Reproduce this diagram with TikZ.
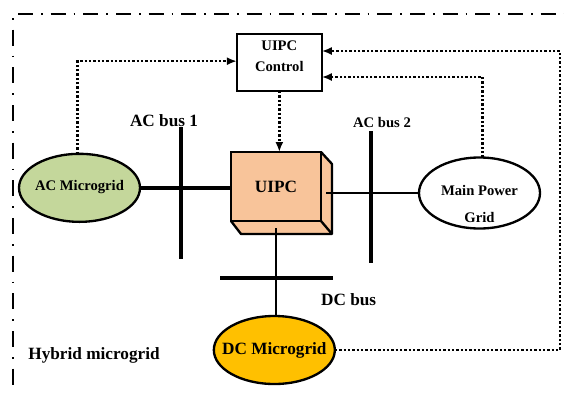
\documentclass[tikz,border=0pt]{standalone}
\usepackage{fontspec}
\setmainfont{Liberation Serif}
\usetikzlibrary{calc,positioning,shapes.geometric,arrows.meta}
\definecolor{cubeorange}{HTML}{F8C49A}
\definecolor{acgreen}{HTML}{C4D79B}
\definecolor{dcyellow}{HTML}{FFC000}
\newcommand{\smalltext}{\fontsize{12.5}{15}\selectfont\bfseries}
\newcommand{\largetext}{\fontsize{14.7}{17}\selectfont\bfseries}
\tikzstyle{grid}=[ellipse, draw=black, line width=0.07cm, minimum width=3.63cm, minimum height=2.04cm, inner sep=0pt, outer sep=0pt, text=black]
\tikzstyle{control}=[rectangle, draw=black, fill=white, line width=0.07cm, minimum width=2.55cm, minimum height=1.71cm, outer sep=0pt]
\tikzstyle{bus}=[line width=0.11cm]
\tikzstyle{link}=[line width=0.06cm]
\tikzstyle{signal}=[line width=0.07cm, dash pattern=on 0.07cm off 0.06cm, -{Latex[length=0.3cm,width=0.24cm]}]
\tikzstyle{frame}=[line width=0.07cm]
\pgfdeclarelayer{background}
\pgfsetlayers{background,main}

\begin{document}
\begin{tikzpicture}
    \useasboundingbox (0,0) rectangle (16.92,11.82);

    \node (UIPC) [rectangle, draw=black, fill=cubeorange, line width=0.08cm, minimum width=2.7cm, minimum height=2.07cm, outer sep=0pt, font=\largetext] at (8.28,6.225) {UIPC};

    \node (Control) [control, above=1.83cm of UIPC, xshift=0.1cm] {};
    \node (Control Label) [align=center, font=\smalltext] at ($(Control.center)+(0,0.18)$)
        {UIPC\\[0.1cm]Control};

    \node (AC Microgrid) [grid, fill=acgreen, left=2.73cm of UIPC, yshift=-0.04cm, font=\smalltext]
        {\raisebox{0.13cm}{\makebox[0pt]{AC Microgrid}}};

    \node (Main Grid) [grid, right=2.94cm of UIPC, yshift=-0.195cm, minimum height=2.13cm] {};
    \node (Main Label) [align=center, font=\smalltext] at ($(Main Grid.center)+(0,-0.33)$)
        {Main Power\\[0.27cm]Grid};

    \node (DC Microgrid) [grid, fill=dcyellow, below=2.85cm of UIPC, xshift=-0.05cm, font=\largetext]
        {\raisebox{0.08cm}{\makebox[0pt]{DC Microgrid}}};

    % buses
    \coordinate (Bus1 top) at (5.43,8.01);
    \coordinate (Bus1 bottom) at (5.43,4.05);
    \coordinate (Bus2 top) at (11.13,7.89);
    \coordinate (Bus2 bottom) at (11.13,3.93);
    \coordinate (DCBus left) at (6.6,3.48);
    \coordinate (DCBus right) at (9.99,3.48);
    \draw[bus] (Bus1 top) -- (Bus1 bottom);
    \draw[bus] (Bus2 top) -- (Bus2 bottom);
    \draw[bus] (DCBus left) -- (DCBus right);

    \node (AC Label1) [font=\largetext] at (4.92,8.2) {AC bus 1};
    \node (AC Label2) [font=\smalltext] at (11.46,8.13) {AC bus 2};
    \node (DC Label) [font=\largetext] at (10.46,2.82) {DC bus};
    \node (Hybrid Label) [font=\largetext] at (2.82,1.17) {Hybrid microgrid};

    % cube faces
    \begin{pgfonlayer}{background}
        \draw[fill=cubeorange, line width=0.07cm, line join=round] (UIPC.north east) -- ++(0.33,-0.36) -- ($(UIPC.south east)+(0.33,-0.39)$) -- ($(UIPC.south west)+(0.3,-0.39)$) -- (UIPC.south west) -- cycle;
        \draw[line width=0.07cm] (UIPC.south east) -- ++(0.33,-0.39);
    \end{pgfonlayer}

    % power lines
    \coordinate (UIPC side) at ($(UIPC.east)+(0.15,0)$);
    \coordinate (UIPC bottom) at ($(UIPC.south)+(0,-0.21)$);
    \draw[line width=0.1cm] (AC Microgrid.east) -- (UIPC.west |- AC Microgrid.east);
    \draw[link] (UIPC side |- Main Grid.west) -- (Main Grid.west);
    \draw[link] (UIPC bottom) -- (UIPC bottom |- DC Microgrid.north);

    % signals
    \coordinate (AC Signal) at ($(AC Microgrid.north)+(-0.06,0)$);
    \coordinate (Main Signal) at ($(Main Grid.north)+(0.09,0)$);
    \coordinate (Control AC) at ($(Control.west)+(0,0.04)$);
    \coordinate (Control top) at ($(Control.east)+(0,0.345)$);
    \coordinate (Control low) at ($(Control.east)+(0,-0.435)$);
    \coordinate (DC Corner) at (16.8,1.29);
    \draw[signal] (AC Signal) |- (Control AC);
    \draw[signal] (Main Signal) |- (Control low);
    \draw[signal] (Control.south) -- (Control.south |- UIPC.north);
    \draw[signal] (DC Microgrid.east) -- (DC Microgrid.east -| DC Corner) |- (Control top);

    % outer frame
    \coordinate (Frame corner) at (0.39,11.4);
    \coordinate (Frame right) at (16.92,11.4);
    \coordinate (Frame bottom) at (0.39,0.27);
    \draw[frame, dash pattern=on 0.45cm off 0.24cm on 0.05cm off 0.24cm] ($(Frame corner)+(0.15,0)$) -- (Frame right);
    \draw[frame, dash pattern=on 0.05cm off 0.3cm on 0.48cm off 0.3cm] ($(Frame corner)+(0,-0.12)$) -- (Frame bottom);
\end{tikzpicture}
\end{document}
